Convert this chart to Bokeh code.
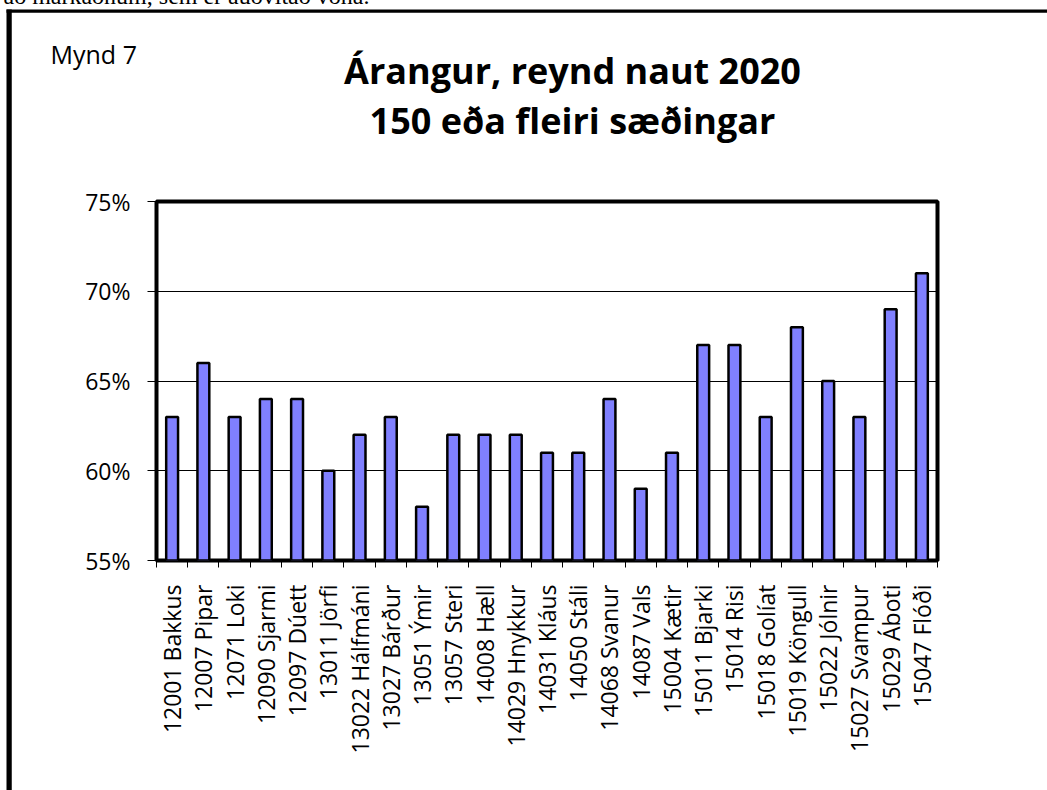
from bokeh.plotting import figure
from bokeh.models import (Range1d, FixedTicker, PrintfTickFormatter, Label,
                          ColumnDataSource)
from bokeh.embed import file_html
from bokeh.resources import INLINE
import math

# ---- data ----
names = ["12001 Bakkus", "12007 Pipar", "12071 Loki", "12090 Sjarmi", "12097 Dúett",
         "13011 Jörfi", "13022 Hálfmáni", "13027 Bárður", "13051 Ýmir", "13057 Steri",
         "14008 Hæll", "14029 Hnykkur", "14031 Kláus", "14050 Stáli", "14068 Svanur",
         "14087 Vals", "15004 Kætir", "15011 Bjarki", "15014 Risi", "15018 Golíat",
         "15019 Köngull", "15022 Jólnir", "15027 Svampur", "15029 Áboti", "15047 Flóði"]
values = [63, 66, 63, 64, 64, 60, 62, 63, 58, 62, 62, 62, 61, 61, 64, 59, 61, 67, 67, 63,
          68, 65, 63, 69, 71]
y_ticks = [55, 60, 65, 70, 75]
title_lines = ["Árangur, reynd naut 2020", "150 eða fleiri sæðingar"]
fig_label = "Mynd 7"
page_text = "að markaðnum, sem er auðvitað vona."

# ---- layout ----
W, H = 1047, 790
FL, FT, FR, FB = 156, 201, 937, 560  # frame edges in canvas px
n = len(names)
ymin, ymax = y_ticks[0], y_ticks[-1]

def dx(px):
    return (px - FL) / (FR - FL) * n

def dy(py):
    return ymax - (py - FT) / (FB - FT) * (ymax - ymin)

FONT = "Open Sans"

p = figure(width=W, height=H, output_backend="svg", toolbar_location=None,
           x_range=Range1d(0, n), y_range=Range1d(ymin, ymax),
           min_border_left=FL, min_border_right=W - FR,
           min_border_top=FT, min_border_bottom=H - FB)
p.background_fill_color = "white"
p.border_fill_color = "white"
p.outline_line_color = "black"
p.outline_line_width = 4

src = ColumnDataSource(dict(x=[i + 0.5 for i in range(n)], top=values, name=names))
p.vbar(x="x", top="top", bottom=ymin, width=0.38, source=src,
       fill_color="#8080FF", line_color="black", line_width=2.5)

# x axis
p.xaxis.ticker = FixedTicker(ticks=[i + 0.5 for i in range(n)],
                             minor_ticks=list(range(n + 1)))
p.xaxis.major_label_overrides = {i + 0.5: nm for i, nm in enumerate(names)}
p.xaxis.major_label_orientation = math.pi / 2
p.xaxis.major_tick_out = 0
p.xaxis.major_tick_in = 0
p.xaxis.minor_tick_out = 7
p.xaxis.minor_tick_in = 0
p.xaxis.minor_tick_line_color = "black"
p.xaxis.major_label_standoff = 17
p.xaxis.axis_line_color = None
p.xaxis.major_label_text_font = FONT
p.xaxis.major_label_text_font_size = "23px"
p.xaxis.major_label_text_color = "black"
p.xgrid.visible = False

# y axis
p.yaxis.ticker = FixedTicker(ticks=y_ticks)
p.yaxis.formatter = PrintfTickFormatter(format="%d%%")
p.yaxis.major_tick_out = 9
p.yaxis.major_tick_in = 0
p.yaxis.minor_tick_line_color = None
p.yaxis.major_tick_line_color = "black"
p.yaxis.major_label_standoff = 17
p.yaxis.axis_line_color = None
p.yaxis.major_label_text_font = FONT
p.yaxis.major_label_text_font_size = "23px"
p.yaxis.major_label_text_color = "black"
p.ygrid.ticker = FixedTicker(ticks=y_ticks)
p.ygrid.grid_line_color = "black"
p.ygrid.grid_line_width = 1

# outer page frame: left edge (in left panel, only its width counts) and top edge
# (in above panel, only its height counts), drawn as filled label boxes
p.add_layout(Label(x=dx(6), y=dy(9), text=" ", text_font=FONT, text_font_size="1px",
                   text_align="left", text_baseline="top",
                   background_fill_color="black", border_line_color=None,
                   padding=dict(left=0, right=5, top=0, bottom=800)), "left")
p.add_layout(Label(x=dx(6), y=dy(9), text=" ", text_font=FONT, text_font_size="1px",
                   text_align="left", text_baseline="top",
                   background_fill_color="black", border_line_color=None,
                   padding=dict(left=0, right=1100, top=0, bottom=2)), "above")

# page text cut off by the top edge (as in the reference)
p.add_layout(Label(x=dx(3), y=dy(-5), text=page_text, text_font="Liberation Serif",
                   text_font_size="24px", text_color="black",
                   text_align="left", text_baseline="alphabetic"), "above")

# texts
p.add_layout(Label(x=dx(50), y=dy(53), text=fig_label, text_font=FONT,
                   text_font_size="25px", text_color="black",
                   text_align="left", text_baseline="alphabetic"), "above")
for line, base in zip(title_lines, [70, 120]):
    p.add_layout(Label(x=dx(572), y=dy(base), text=line, text_font=FONT,
                       text_font_size="36px", text_font_style="bold", text_color="black",
                       text_align="center", text_baseline="alphabetic"), "above")

open("out.html", "w").write(file_html(p, INLINE))
